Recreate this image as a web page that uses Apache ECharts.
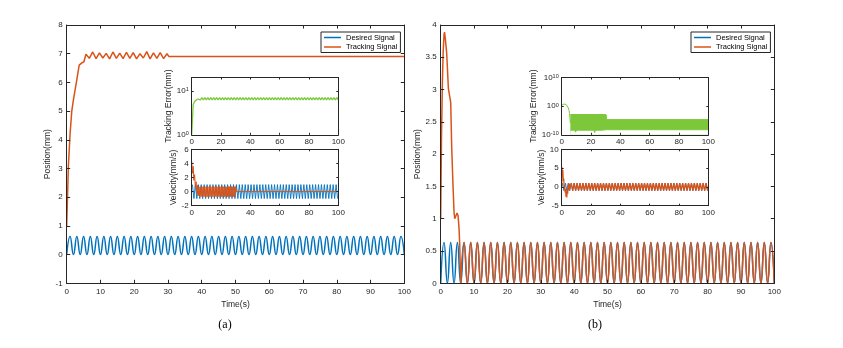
<!DOCTYPE html>
<html>
<head>
<meta charset="utf-8">
<script src="https://cdn.jsdelivr.net/npm/echarts@6/dist/echarts.min.js"></script>
<style>
  html, body { margin: 0; padding: 0; background: #fff; }
  #main { width: 843px; height: 348px; }
</style>
</head>
<body>
<div id="main"></div>
<script>
// desired position (mm), one sample per second, t = 0..100
const desiredPos = [
  0, 0.63, 0, 0.63, 0, 0.63, 0, 0.63, 0, 0.63,
  0, 0.63, 0, 0.63, 0, 0.63, 0, 0.63, 0, 0.63,
  0, 0.63, 0, 0.63, 0, 0.63, 0, 0.63, 0, 0.63,
  0, 0.63, 0, 0.63, 0, 0.63, 0, 0.63, 0, 0.63,
  0, 0.63, 0, 0.63, 0, 0.63, 0, 0.63, 0, 0.63,
  0, 0.63, 0, 0.63, 0, 0.63, 0, 0.63, 0, 0.63,
  0, 0.63, 0, 0.63, 0, 0.63, 0, 0.63, 0, 0.63,
  0, 0.63, 0, 0.63, 0, 0.63, 0, 0.63, 0, 0.63,
  0, 0.63, 0, 0.63, 0, 0.63, 0, 0.63, 0, 0.63,
  0, 0.63, 0, 0.63, 0, 0.63, 0, 0.63, 0, 0.63,
  0
];
// desired velocity (mm/s), samples at t = 0.5, 1.5, ... 99.5
const desiredVel = [
  0.99, -0.99, 0.99, -0.99, 0.99, -0.99, 0.99, -0.99, 0.99, -0.99,
  0.99, -0.99, 0.99, -0.99, 0.99, -0.99, 0.99, -0.99, 0.99, -0.99,
  0.99, -0.99, 0.99, -0.99, 0.99, -0.99, 0.99, -0.99, 0.99, -0.99,
  0.99, -0.99, 0.99, -0.99, 0.99, -0.99, 0.99, -0.99, 0.99, -0.99,
  0.99, -0.99, 0.99, -0.99, 0.99, -0.99, 0.99, -0.99, 0.99, -0.99,
  0.99, -0.99, 0.99, -0.99, 0.99, -0.99, 0.99, -0.99, 0.99, -0.99,
  0.99, -0.99, 0.99, -0.99, 0.99, -0.99, 0.99, -0.99, 0.99, -0.99,
  0.99, -0.99, 0.99, -0.99, 0.99, -0.99, 0.99, -0.99, 0.99, -0.99,
  0.99, -0.99, 0.99, -0.99, 0.99, -0.99, 0.99, -0.99, 0.99, -0.99,
  0.99, -0.99, 0.99, -0.99, 0.99, -0.99, 0.99, -0.99, 0.99, -0.99
];

// (a) tracking position
const trackATime = [0, 0.5, 1, 1.5, 2, 3, 3.7, 4.5, 5.1,
  5.7, 6.7, 7.7, 8.7, 9.7, 10.7, 11.7, 12.7, 13.7, 14.7, 15.7, 16.7, 17.7,
  18.7, 19.7, 20.7, 21.7, 22.7, 23.7, 24.7, 25.7, 26.7, 27.7, 28.7, 29.7,
  30.3, 100];
const trackAVal = [1.0, 3.1, 4.2, 5.0, 5.4, 6.1, 6.6, 6.68, 6.72,
  6.98, 6.84, 7.06, 6.83, 7.03, 6.85, 7.01, 6.82, 7.06, 6.84, 7.02, 6.83, 7.05,
  6.84, 7.04, 6.82, 7.0, 6.85, 7.07, 6.82, 7.03, 6.84, 7.04, 6.83, 7.0,
  6.9, 6.9];
// (a) tracking error, one sample per second
const teAVal = [
  1.0, 4.8, 5.7, 6.2, 6.5, 7.0, 6.2, 7.0, 6.2, 7.0,
  6.2, 7.0, 6.2, 7.0, 6.2, 7.0, 6.2, 7.0, 6.2, 7.0,
  6.2, 7.0, 6.2, 7.0, 6.2, 7.0, 6.2, 7.0, 6.2, 7.0,
  6.2, 7.0, 6.2, 7.0, 6.2, 7.0, 6.2, 7.0, 6.2, 7.0,
  6.2, 7.0, 6.2, 7.0, 6.2, 7.0, 6.2, 7.0, 6.2, 7.0,
  6.2, 7.0, 6.2, 7.0, 6.2, 7.0, 6.2, 7.0, 6.2, 7.0,
  6.2, 7.0, 6.2, 7.0, 6.2, 7.0, 6.2, 7.0, 6.2, 7.0,
  6.2, 7.0, 6.2, 7.0, 6.2, 7.0, 6.2, 7.0, 6.2, 7.0,
  6.2, 7.0, 6.2, 7.0, 6.2, 7.0, 6.2, 7.0, 6.2, 7.0,
  6.2, 7.0, 6.2, 7.0, 6.2, 7.0, 6.2, 7.0, 6.2, 7.0,
  6.2
];
// (a) tracking velocity, every 0.5 s up to 30 s, zero afterwards
const velAVal = [
  4.3, 2.6, 3.6, 1.6, 2.4, 0.6, 1.4, -0.3, 0.9, -0.6, 0.7,
  -0.75, 0.7, -0.7, 0.72, -0.74, 0.68, -0.72, 0.7, -0.73, 0.71,
  -0.75, 0.7, -0.7, 0.72, -0.74, 0.68, -0.72, 0.7, -0.73, 0.71,
  -0.75, 0.7, -0.7, 0.72, -0.74, 0.68, -0.72, 0.7, -0.73, 0.71,
  -0.75, 0.7, -0.7, 0.72, -0.74, 0.68, -0.72, 0.7, -0.73, 0.71,
  -0.75, 0.7, -0.7, 0.72, -0.74, 0.68, -0.72, 0.7, -0.73, 0.71
];
const velATailTime = [30.5, 100];
const velATailVal = [0, 0];

// (b) tracking position, transient before it locks onto the desired signal at 6 s
const trackBTime = [0, 0.25, 0.5, 0.75, 1.0, 1.15, 1.4, 1.8, 2.3, 2.45, 2.8, 3.0,
  3.3, 3.7, 4.0, 4.2, 4.5, 4.9, 5.2, 5.5, 5.7, 5.9, 6];
const trackBVal = [1.0, 2.3, 3.1, 3.6, 3.85, 3.89, 3.78, 3.56, 3.02, 2.97, 2.95, 2.8,
  2.1, 1.5, 1.1, 1.0, 1.03, 1.09, 1.05, 0.85, 0.6, 0.15, 0];
const LOCK_T = 6;
// (b) tracking error: transient curve, then a dense band (upper / lower edge)
const teBTime = [0, 0.5, 1, 1.5, 2, 2.5, 3, 3.5, 4, 4.5, 5, 5.3, 5.6, 5.9];
const teBVal = [2, 3, 4.2, 5.3, 6, 5.5, 4, 2.3, 1, 0.25, 0.03, 0.003, 1e-4, 1e-6];
const teBHighTime = [5.9, 30.3, 30.6, 100];
const teBHighVal = [1.2e-3, 1.2e-3, 2e-5, 2e-5];
const teBLowTime = [5.9, 9, 9.5, 10, 16, 16.5, 17, 22, 22.5, 23, 27, 27.5, 28, 30.5,
  36, 36.5, 37, 45, 45.5, 46, 54, 54.5, 55, 63, 63.5, 64, 72, 72.5, 73,
  81, 81.5, 82, 90, 90.5, 91, 100];
const teBLowVal = [4e-9, 4e-9, 8e-10, 4e-9, 4e-9, 1e-9, 4e-9, 4e-9, 6e-10, 4e-9, 4e-9, 1e-9, 4e-9, 6e-9,
  6e-9, 2e-9, 6e-9, 6e-9, 2e-9, 6e-9, 6e-9, 2e-9, 6e-9, 6e-9, 2e-9, 6e-9, 6e-9, 2e-9, 6e-9,
  6e-9, 2e-9, 6e-9, 6e-9, 2e-9, 6e-9, 6e-9];
// (b) tracking velocity transient
const velBTime = [0, 0.2, 0.5, 0.8, 1.1, 1.4, 1.7, 2.0, 2.3, 2.6, 2.9, 3.2, 3.5, 3.8,
  4.1, 4.4, 4.7, 5.0, 5.3, 5.6, 6.0];
const velBVal = [0, 5.2, 3.5, 4.5, 1.5, 2.2, -0.5, 0.4, -1.5, -0.6, -2.6, -1.2, -2.8, -0.6,
  -1.8, 0.6, -0.9, 0.8, -1.0, 0.9, 0];

const legendNames = ['Desired Signal', 'Tracking Signal'];

const BLUE = '#0072BD';
const ORANGE = '#D95319';
const GREEN = '#7DC83A';
const AX = '#262626';
const FONT = '"Liberation Sans", Arial, Helvetica, sans-serif';

function zip(t, v) { return t.map((x, i) => [x, v[i]]); }

// box style axes: bottom/left carry the labels, top/right only mirror the ticks
function axisPair(kind, g, o) {
  const common = {
    gridIndex: g, type: o.type || 'value', min: o.min, max: o.max, z: 10,
    axisLine: { onZero: false, lineStyle: { color: AX, width: 1 } },
    axisTick: { inside: true, length: o.tick || 3, lineStyle: { color: AX, width: 1 } },
    splitLine: { show: false }
  };
  if (o.interval != null) common.interval = o.interval;
  if (o.type === 'log') common.logBase = 10;
  const main = Object.assign({}, common, {
    position: kind === 'x' ? 'bottom' : 'left',
    axisLabel: Object.assign({ color: AX, fontSize: 8, fontFamily: FONT, margin: o.margin || 4 }, o.label || {}),
    name: o.name || '', nameLocation: 'middle', nameGap: o.nameGap || 12,
    nameTextStyle: { color: AX, fontSize: 8.5, fontFamily: FONT }
  });
  const mirror = Object.assign({}, common, {
    position: kind === 'x' ? 'top' : 'right',
    axisLabel: { show: false }
  });
  return [main, mirror];
}

const logLabel = {
  formatter: function (v) {
    const e = Math.log10(v);
    if (Math.abs(e - Math.round(e)) > 1e-6) return '';
    return '10{e|' + Math.round(e) + '}';
  },
  rich: { e: { fontSize: 5.5, verticalAlign: 'top', color: AX, fontFamily: FONT } }
};

const grids = [
  { left: 66.7, top: 25, width: 337.6, height: 258.3 },   // (a) position
  { left: 191.7, top: 77.5, width: 146.6, height: 57.3 }, // (a) tracking error
  { left: 191.7, top: 149.3, width: 146.6, height: 56.4 },// (a) velocity
  { left: 440.7, top: 25, width: 333.6, height: 258.3 },  // (b) position
  { left: 561.7, top: 77.5, width: 146.6, height: 57.3 }, // (b) tracking error
  { left: 561.7, top: 149.3, width: 146.6, height: 56.4 } // (b) velocity
];

const xAxes = [].concat(
  axisPair('x', 0, { min: 0, max: 100, interval: 10, tick: 3.5, name: 'Time(s)', nameGap: 9 }),
  axisPair('x', 1, { min: 0, max: 100, interval: 20, tick: 2, margin: 3 }),
  axisPair('x', 2, { min: 0, max: 100, interval: 20, tick: 2, margin: 3 }),
  axisPair('x', 3, { min: 0, max: 100, interval: 10, tick: 3.5, name: 'Time(s)', nameGap: 9 }),
  axisPair('x', 4, { min: 0, max: 100, interval: 20, tick: 2, margin: 3 }),
  axisPair('x', 5, { min: 0, max: 100, interval: 20, tick: 2, margin: 3 })
);
const yAxes = [].concat(
  axisPair('y', 0, { min: -1, max: 8, interval: 1, tick: 3.5, name: 'Position(mm)', nameGap: 11 }),
  axisPair('y', 1, { type: 'log', min: 1, max: 20, tick: 2, margin: 3, label: logLabel, name: 'Tracking Error(mm)', nameGap: 17 }),
  axisPair('y', 2, { min: -2, max: 6, interval: 2, tick: 2, margin: 3, name: 'Velocity(mm/s)', nameGap: 11 }),
  axisPair('y', 3, { min: 0, max: 4, interval: 0.5, tick: 3.5, name: 'Position(mm)', nameGap: 14 }),
  axisPair('y', 4, { type: 'log', min: 1e-10, max: 1e10, tick: 2, margin: 3, label: logLabel, name: 'Tracking Error(mm)', nameGap: 18 }),
  axisPair('y', 5, { min: -5, max: 10, interval: 5, tick: 2, margin: 3, name: 'Velocity(mm/s)', nameGap: 13 })
);

function line(name, g, data, color, width, extra) {
  return Object.assign({
    name: name, type: 'line', xAxisIndex: 2 * g, yAxisIndex: 2 * g,
    data: data, symbol: 'none', showSymbol: false, silent: true,
    color: color, lineStyle: { color: color, width: width }
  }, extra || {});
}

const posData = desiredPos.map((v, i) => [i, v]);
const velData = desiredVel.map((v, i) => [i + 0.5, v]);
const trackBSteady = posData.slice(LOCK_T);
const velBSteady = velData.slice(LOCK_T);

const series = [
  // (a)
  line('Desired Signal', 0, posData, BLUE, 1.5, { smooth: true }),
  line('Tracking Signal', 0, zip(trackATime, trackAVal), ORANGE, 1.5),
  line('Error A', 1, teAVal.map((v, i) => [i, v]), GREEN, 1.3),
  line('Desired Vel A', 2, velData, BLUE, 0.9),
  line('Track Vel A', 2, velAVal.map((v, i) => [i * 0.5, v]).concat(zip(velATailTime, velATailVal)), ORANGE, 1),
  // (b)
  line('Desired Signal', 3, posData, BLUE, 1.5, { smooth: true }),
  line('Tracking Signal', 3, zip(trackBTime, trackBVal), ORANGE, 1.5),
  line('Tracking Signal', 3, trackBSteady, ORANGE, 1.5, { smooth: true }),
  line('Error B', 4, zip(teBTime, teBVal), GREEN, 1),
  line('Error B band', 4, zip(teBHighTime, teBHighVal), GREEN, 1,
    { areaStyle: { color: GREEN, opacity: 1, origin: 'start' } }),
  line('Error B low', 4, zip(teBLowTime, teBLowVal), GREEN, 1,
    { areaStyle: { color: '#fff', opacity: 1, origin: 'start' } }),
  line('Desired Vel B', 5, velData, BLUE, 0.9),
  line('Track Vel B', 5, zip(velBTime, velBVal), ORANGE, 1.2),
  line('Track Vel B2', 5, velBSteady, ORANGE, 1.3)
];

function legendAt(left) {
  return {
    data: legendNames, left: left, top: 32, orient: 'vertical', selectedMode: false,
    icon: 'rect', itemWidth: 17, itemHeight: 1.5, itemGap: 1.5, padding: [1.5, 3, 1.5, 3],
    borderColor: AX, borderWidth: 1, backgroundColor: '#fff',
    textStyle: { fontSize: 7.5, fontFamily: FONT, color: '#000', lineHeight: 8 }
  };
}

const captionFont = '12px "Liberation Serif", "Times New Roman", serif';

const chart = echarts.init(document.getElementById('main'), null, { renderer: 'canvas' });
chart.setOption({
  backgroundColor: '#fff',
  animation: false,
  grid: grids,
  xAxis: xAxes,
  yAxis: yAxes,
  legend: [legendAt(321), legendAt(691)],
  series: series,
  graphic: [
    { type: 'text', x: 225, y: 325, style: { text: '(a)', font: captionFont, fill: '#000', align: 'center', verticalAlign: 'middle' } },
    { type: 'text', x: 595, y: 325, style: { text: '(b)', font: captionFont, fill: '#000', align: 'center', verticalAlign: 'middle' } }
  ]
});
</script>
</body>
</html>
